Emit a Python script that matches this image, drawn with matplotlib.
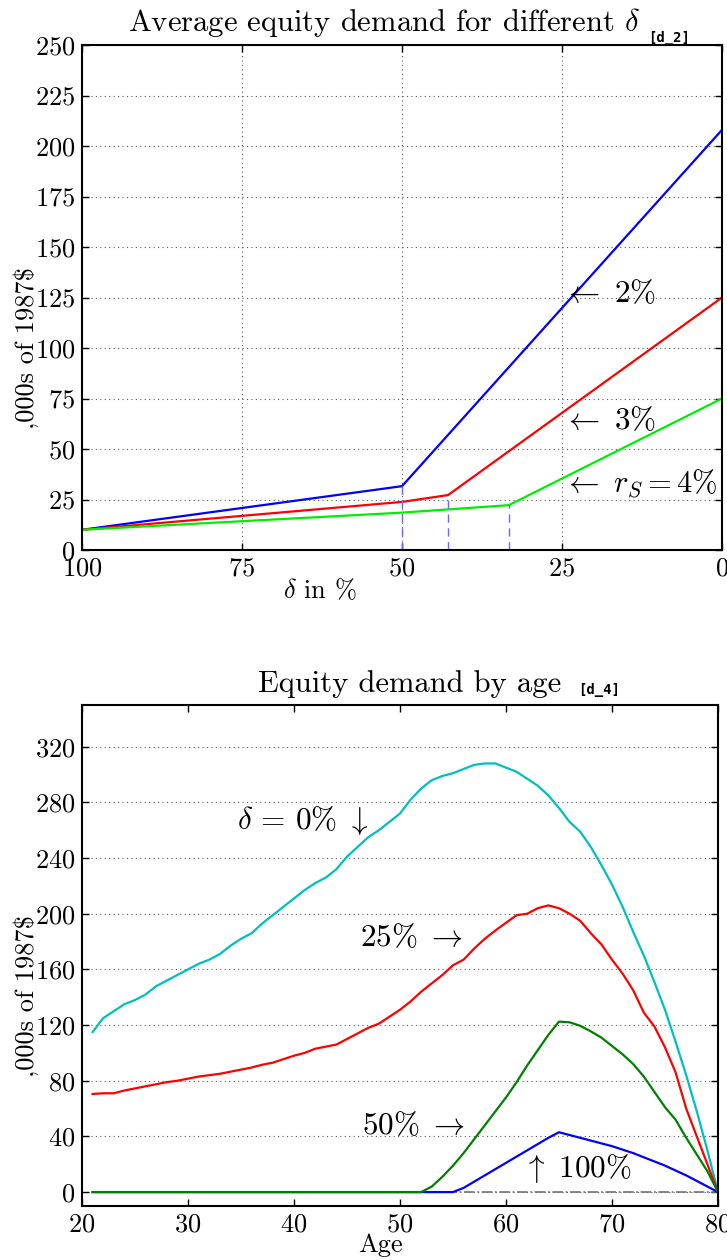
import matplotlib
matplotlib.use("Agg")
import matplotlib.pyplot as plt

plt.rcParams['font.family'] = 'serif'
plt.rcParams['font.serif'] = ['cmr10']
plt.rcParams['mathtext.fontset'] = 'cm'
plt.rcParams['axes.formatter.use_mathtext'] = True

# ---------------- data: top panel ----------------
delta_2 = [100, 50, 0]
demand_2 = [10, 31.6, 208]
delta_3 = [100, 50, 42.8, 0]
demand_3 = [10, 23.8, 27.2, 125]
delta_4 = [100, 50, 33.3, 0]
demand_4 = [10, 18.5, 22.2, 75]
kink_delta = [50, 42.8, 33.3]
kink_value = [31.6, 27.2, 22.2]
top_xticks = [100, 75, 50, 25, 0]
top_yticks = [0, 25, 50, 75, 100, 125, 150, 175, 200, 225, 250]

# ---------------- data: bottom panel ----------------
ages = list(range(21, 81))
eq_d0 = [115, 125, 130, 135, 138, 142, 148, 152, 156, 160,
         164, 167, 171, 177, 182, 186, 193, 199, 205, 211,
         217, 222, 226, 232, 241, 248, 255, 260, 266, 272,
         282, 290, 296, 299, 301, 304, 307, 308, 308, 305,
         302, 297, 292, 285, 276, 266, 259, 248, 235, 221,
         205, 187, 170, 151, 131, 108, 84, 58, 30, 0]
eq_d25 = [70.5, 71, 71, 73, 74.5, 76, 77.5, 79, 80, 81.5,
          83, 84, 85, 86.5, 88, 89.5, 91.5, 93, 95.5, 98,
          100, 103, 104.5, 106, 110, 114, 118, 121, 126, 131,
          137, 144, 150, 156, 163, 167, 175, 182, 188, 193.5,
          199, 200, 204, 206, 204, 200, 195, 186, 178, 167,
          157, 145, 129, 119, 104, 86, 60, 40, 20, 0]
eq_d50 = [0, 0, 0, 0, 0, 0, 0, 0, 0, 0,
          0, 0, 0, 0, 0, 0, 0, 0, 0, 0,
          0, 0, 0, 0, 0, 0, 0, 0, 0, 0,
          0, 0, 4, 11, 19, 28, 38, 48, 58, 68,
          79, 91, 102, 113, 122.5, 122, 119.5, 115.5, 111, 105,
          99, 92, 83, 72, 61, 52, 39, 27, 15, 0]
eq_d100 = [0, 0, 0, 0, 0, 0, 0, 0, 0, 0,
           0, 0, 0, 0, 0, 0, 0, 0, 0, 0,
           0, 0, 0, 0, 0, 0, 0, 0, 0, 0,
           0, 0, 0, 0, 0, 3, 7.5, 12, 16.5, 21,
           25.5, 30, 34.5, 39, 43, 41, 39, 37, 35, 33,
           30.5, 28, 25, 22, 19, 15.5, 12, 8, 4, 0]
bot_xticks = [20, 30, 40, 50, 60, 70, 80]
bot_yticks = [0, 40, 80, 120, 160, 200, 240, 280, 320]

W, H = 727, 1260
fig = plt.figure(figsize=(W / 100, H / 100), dpi=100)

def frac(l, t, r, b):
    return [l / W, 1 - b / H, (r - l) / W, (b - t) / H]

def ftext(x, y, s, **kw):
    return fig.text(x / W, 1 - y / H, s, **kw)

TICK_FS = 19
LAB_FS = 19
ANN_FS = 22.5
TITLE_FS = 22

def style(ax):
    ax.tick_params(direction='in', top=True, right=True, length=5, width=1,
                   labelsize=TICK_FS, pad=5)
    for s in ax.spines.values():
        s.set_linewidth(1.5)

# ---------------- top panel ----------------
ax1 = fig.add_axes(frac(82, 45, 722, 550))
ax1.plot(delta_2, demand_2, color='#0000ff', lw=1.6)
ax1.plot(delta_3, demand_3, color='#ff0000', lw=1.6)
ax1.plot(delta_4, demand_4, color='#00ee00', lw=1.6)
for d, v in zip(kink_delta, kink_value):
    ax1.plot([d, d], [0, v], color='#6a6aff', lw=1.0, ls=(0, (6, 4)))
ax1.set_xlim(100, 0)
ax1.set_ylim(0, 250)
ax1.set_xticks(top_xticks)
ax1.set_yticks(top_yticks)
ax1.grid(True, color='0.35', ls=(0, (1, 3)), lw=0.8)
style(ax1)
ax1.set_xlabel(r'$\delta$ in %', fontsize=LAB_FS)
ax1.xaxis.set_label_coords(0.372, -0.055)
ax1.set_ylabel(r',000s of 1987\$', fontsize=LAB_FS)
ax1.yaxis.set_label_coords(-0.067, 0.40)
ax1.text(24.9, 127, r'$\leftarrow\ 2\%$', fontsize=ANN_FS, ha='left', va='center')
ax1.text(24.9, 64, r'$\leftarrow\ 3\%$', fontsize=ANN_FS, ha='left', va='center')
ax1.text(24.9, 33, r'$\leftarrow\ r_S = 4\%$', fontsize=22, ha='left', va='center')
ftext(128, 31, 'Average equity demand for different ' + r'$\delta$',
      fontsize=TITLE_FS, ha='left', va='baseline')
ftext(648, 42, '[d_2]', fontsize=10, family='DejaVu Sans Mono', weight='bold',
      ha='left', va='baseline')

# ---------------- bottom panel ----------------
ax2 = fig.add_axes(frac(82, 705, 718, 1206))
ax2.plot(ages, eq_d0, color='#00bfbf', lw=1.6)
ax2.plot(ages, eq_d25, color='#ff0000', lw=1.6)
ax2.plot([ages[0], ages[-1]], [0, 0], color='0.45', lw=1.2, ls='-.')
ax2.plot(ages, eq_d100, color='#0000ff', lw=1.6)
ax2.plot(ages, eq_d50, color='#008000', lw=1.6)
ax2.set_xlim(20, 80)
ax2.set_ylim(-10, 350)
ax2.set_xticks(bot_xticks)
ax2.set_yticks(bot_yticks)
ax2.grid(True, axis='y', color='0.35', ls=(0, (1, 3)), lw=0.8)
style(ax2)
ax2.set_xlabel('Age', fontsize=LAB_FS)
ax2.xaxis.set_label_coords(0.47, -0.055)
ax2.set_ylabel(r',000s of 1987\$', fontsize=LAB_FS)
ax2.yaxis.set_label_coords(-0.067, 0.42)
ax2.text(34.6, 267, r'$\delta\,=\,0\%\ \downarrow$', fontsize=ANN_FS, ha='left', va='center')
ax2.text(46.2, 183, r'$25\%\ \rightarrow$', fontsize=ANN_FS, ha='left', va='center')
ax2.text(46.4, 48, r'$50\%\ \rightarrow$', fontsize=ANN_FS, ha='left', va='center')
ax2.text(61.6, 17, r'$\uparrow\ 100\%$', fontsize=ANN_FS, ha='left', va='center')
ftext(258, 692, 'Equity demand by age', fontsize=TITLE_FS, ha='left', va='baseline')
ftext(578, 694, '[d_4]', fontsize=10, family='DejaVu Sans Mono', weight='bold',
      ha='left', va='baseline')

fig.savefig('out.png', dpi=100)
